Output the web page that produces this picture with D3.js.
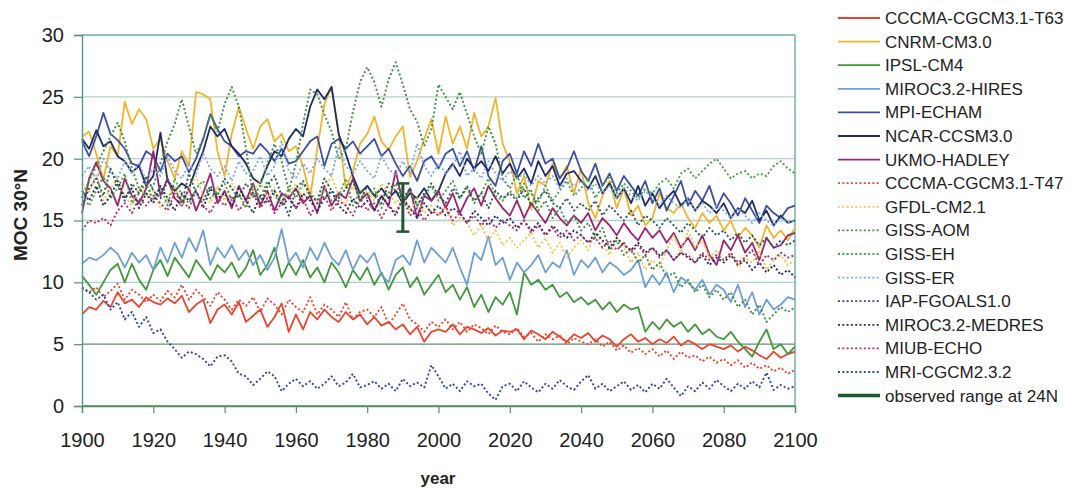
<!DOCTYPE html>
<html><head><meta charset="utf-8">
<script src="https://cdn.jsdelivr.net/npm/d3@7/dist/d3.min.js"></script>
<style>
body{margin:0;background:#fff;}
svg{display:block;font-family:"Liberation Sans",Arial,sans-serif;}
</style>
</head><body>
<svg id="chart" width="1069" height="488"></svg>
<script>
// ---------- DATA (every 2 years, 1900..2100) ----------
const years = d3.range(1900, 2101, 2);
const xTickYears = [1900,1920,1940,1960,1980,2000,2020,2040,2060,2080,2100];
const yTickValues = [0,5,10,15,20,25,30];

const cccmaT63 = [
 7.4,8.0,7.8,8.5,8.0,9.2,8.3,8.6,8.0,8.8,
 8.4,8.2,8.7,8.3,8.9,7.6,8.2,8.6,6.7,7.8,
 8.2,7.4,8.4,6.8,7.3,7.8,6.4,7.2,8.3,6.0,
 7.4,6.2,7.6,7.0,7.8,7.2,6.8,7.6,7.0,7.4,
 6.6,7.2,6.5,6.8,6.2,6.6,5.8,6.4,5.2,6.0,
 6.2,6.0,6.6,5.8,6.4,6.2,5.9,6.3,5.7,6.1,
 6.0,6.2,5.4,6.1,5.8,5.4,6.0,5.6,5.2,5.8,
 5.5,5.9,5.2,5.7,5.4,4.8,5.4,5.8,5.2,5.5,
 5.0,5.4,5.1,5.6,4.9,5.3,5.0,4.6,5.0,4.8,
 4.6,4.9,4.4,4.8,4.5,4.1,3.8,4.4,3.9,4.2,
 4.4];
const cnrm = [
 21.8,22.2,20.4,18.3,21.0,20.2,24.6,22.8,24.0,23.2,
 20.8,21.6,19.8,18.4,20.6,19.4,25.4,25.2,24.8,20.6,
 18.6,22.0,24.2,22.4,20.8,22.6,23.2,21.4,22.0,20.6,
 21.0,19.4,16.9,20.8,24.4,25.8,22.0,17.6,19.0,21.2,
 22.0,23.4,21.4,20.7,21.8,22.6,18.5,19.8,21.6,23.2,
 20.4,23.4,21.2,22.6,20.8,23.7,21.8,22.6,24.9,21.2,
 19.8,17.2,18.6,15.9,18.2,17.8,19.6,18.4,19.4,17.2,
 19.2,16.4,15.2,17.0,18.2,16.0,17.6,15.4,16.2,14.6,
 15.2,17.2,16.0,15.6,16.4,15.2,14.4,15.6,14.8,15.4,
 14.2,15.0,13.6,14.4,13.8,12.8,14.6,13.6,14.2,13.4,
 14.4];
const ipsl = [
 10.5,9.8,9.0,10.0,11.0,11.5,10.0,11.5,10.2,9.4,
 11.0,11.8,10.5,12.0,11.2,10.4,11.8,11.0,10.2,11.4,
 10.8,11.6,10.4,11.2,12.6,10.6,11.4,12.8,10.4,11.6,
 10.6,11.8,10.4,11.2,10.0,11.6,10.8,9.6,11.0,10.2,
 11.2,9.8,10.8,9.4,10.6,11.2,9.6,10.4,9.0,9.8,
 10.6,9.2,9.8,8.6,9.6,8.0,9.0,7.6,8.8,8.2,
 9.2,7.4,10.8,9.8,10.2,9.4,9.8,8.8,9.2,8.4,
 8.8,8.2,8.6,7.8,8.4,7.6,8.2,7.8,8.0,6.0,
 6.8,6.2,7.0,6.4,6.8,6.0,6.6,5.8,6.2,5.6,
 5.4,6.0,5.2,4.6,4.0,5.2,6.2,4.6,5.0,4.2,
 4.8];
const mirocHires = [
 11.5,12.0,11.8,12.2,12.8,12.3,11.2,12.4,11.6,12.2,
 11.0,12.8,11.6,13.2,12.0,13.6,12.5,14.2,11.4,12.8,
 12.0,13.0,11.8,12.6,11.4,12.2,11.0,12.0,14.3,11.6,
 12.4,11.2,12.8,11.8,13.2,12.0,11.4,12.6,11.0,12.2,
 11.6,12.4,10.6,10.0,11.8,12.2,11.4,13.4,11.6,12.8,
 12.2,11.6,12.8,11.2,9.8,12.4,11.8,13.7,11.4,12.0,
 10.2,11.6,10.8,11.4,12.2,10.8,11.6,11.2,12.6,10.6,
 11.8,11.2,12.0,10.8,11.6,11.2,10.6,11.0,11.8,9.6,
 10.6,9.8,10.8,9.2,10.4,10.0,9.4,10.2,9.0,9.8,
 9.4,8.4,9.8,8.0,9.2,7.4,8.6,7.8,8.2,8.8,
 8.6];
const mpi = [
 21.4,20.2,21.8,23.7,22.0,21.5,20.8,19.6,19.4,20.6,
 20.2,19.0,20.4,19.8,20.2,18.9,20.0,21.6,23.6,22.4,
 21.4,21.0,20.2,20.6,20.4,21.2,20.6,19.8,20.8,19.6,
 19.8,20.6,21.4,21.8,19.4,21.2,21.6,20.8,21.4,20.4,
 21.0,21.6,20.2,20.8,19.6,18.6,19.4,18.2,19.8,20.2,
 19.2,20.4,20.8,19.4,20.6,19.0,21.0,18.6,17.8,19.8,
 20.4,18.8,20.6,19.4,21.2,19.6,20.0,18.4,19.2,20.6,
 19.0,18.2,19.6,17.8,18.8,17.4,18.6,17.8,17.0,18.2,
 16.4,17.6,15.8,17.0,18.2,16.2,17.4,16.6,17.8,16.0,
 17.2,16.4,15.4,16.8,15.8,14.8,16.2,15.6,15.2,16.0,
 16.2];
const ncar = [
 21.6,20.8,22.3,21.0,21.4,20.2,19.8,18.9,19.4,17.8,
 18.6,22.1,18.2,17.4,18.0,17.6,19.2,20.6,22.6,21.8,
 22.4,21.0,20.4,19.6,18.4,18.0,19.4,20.6,20.2,21.6,
 22.4,21.8,24.2,25.6,24.8,25.8,22.0,20.4,18.6,17.2,
 17.8,17.0,17.6,16.8,17.4,16.4,17.2,16.8,17.6,16.6,
 17.4,18.8,19.6,18.6,20.0,19.2,19.8,19.0,20.2,18.8,
 19.6,18.4,19.2,18.0,19.8,18.6,19.4,17.8,18.8,19.0,
 18.2,17.6,18.6,17.2,18.0,16.8,17.6,16.4,17.8,16.2,
 17.2,16.0,16.8,17.4,16.2,16.8,15.8,16.6,16.2,15.6,
 16.4,15.2,16.0,15.6,16.6,15.0,15.8,14.6,15.4,14.8,
 15.0];
const ukmo = [
 15.6,18.4,19.7,18.2,17.6,16.2,18.4,17.0,16.4,17.6,
 20.6,17.0,18.4,16.8,16.2,17.6,15.8,17.2,18.8,16.4,
 17.4,16.0,17.8,16.6,18.0,16.2,17.4,15.8,17.2,16.8,
 17.6,16.4,17.0,15.6,17.8,16.2,17.2,16.8,18.4,16.6,
 17.2,15.8,17.0,16.2,19.0,16.4,17.6,15.2,17.0,16.6,
 17.4,16.0,17.2,15.6,16.8,17.6,16.2,17.8,16.8,16.0,
 15.4,16.6,15.2,16.4,15.6,14.8,16.0,15.2,14.6,15.4,
 14.8,15.6,14.2,15.2,14.6,13.8,14.8,14.0,13.4,14.4,
 13.6,14.2,13.2,14.0,12.8,13.6,12.6,13.8,12.2,11.4,
 13.4,12.6,13.8,12.4,13.2,11.8,13.6,12.8,13.0,13.8,
 14.0];
const cccmaT47 = [
 9.5,9.2,9.6,8.8,9.3,9.9,8.6,9.4,9.0,8.4,
 9.0,8.5,9.3,8.8,9.8,8.6,9.4,8.8,8.1,9.2,
 8.6,7.8,8.6,8.1,8.8,7.6,8.7,8.2,7.4,8.6,
 8.0,7.6,8.8,7.4,8.2,7.8,7.2,8.4,7.0,7.6,
 7.8,7.2,8.0,6.6,7.4,8.3,7.0,6.6,6.0,6.8,
 6.4,7.0,6.2,6.8,6.0,6.6,6.3,5.8,6.5,6.0,
 5.8,6.3,5.6,5.9,5.2,5.8,5.4,5.7,5.0,5.5,
 5.2,5.0,5.4,4.8,5.2,4.5,4.9,4.3,4.7,4.2,
 4.6,4.0,4.5,3.8,4.4,3.9,4.1,3.6,4.0,3.5,
 3.8,3.3,3.7,3.1,3.5,3.0,3.3,2.8,3.1,2.6,
 2.9];
const gfdl = [
 18.0,17.2,18.8,16.6,17.6,18.4,17.0,16.2,17.8,16.8,
 17.4,16.0,16.8,17.8,16.2,17.6,18.6,17.0,16.4,17.8,
 16.6,18.0,17.2,16.0,17.4,18.2,16.8,17.6,16.4,17.2,
 18.0,16.8,17.6,16.4,17.4,18.6,17.0,16.2,17.8,16.8,
 17.4,16.6,18.0,17.2,16.4,17.0,15.8,16.8,15.6,16.2,
 15.4,16.0,14.6,15.2,14.8,13.8,14.6,13.4,14.2,13.0,
 13.6,12.8,13.4,14.0,12.8,13.6,12.4,13.2,12.0,12.8,
 13.4,12.6,14.0,13.2,12.2,13.6,12.8,11.6,12.4,11.0,
 11.8,11.2,12.6,13.8,12.4,14.2,12.8,13.4,12.0,12.6,
 11.8,12.4,11.2,12.0,11.6,12.6,11.0,11.8,12.2,11.4,
 11.8];
const gissAom = [
 16.8,18.2,19.4,20.6,21.8,22.9,21.4,19.2,17.6,17.0,
 17.8,19.6,21.4,22.8,24.8,22.6,20.4,21.6,23.6,22.2,
 24.4,25.8,24.2,20.8,16.9,17.8,19.6,21.2,19.8,17.4,
 19.6,22.8,25.6,25.2,23.6,22.2,20.0,20.8,23.8,26.2,
 27.4,26.2,24.2,26.4,27.8,26.0,24.0,23.0,21.0,22.4,
 26.0,25.0,24.0,25.4,23.6,21.8,20.4,22.6,21.2,18.4,
 17.6,18.8,16.8,17.4,15.8,16.6,15.2,16.0,14.8,15.4,
 14.2,14.8,13.6,14.4,12.6,13.4,12.2,12.8,11.6,12.2,
 11.0,11.6,10.4,10.8,9.6,10.2,9.2,9.8,8.8,9.4,
 8.6,9.2,8.0,8.6,7.4,8.2,6.8,7.4,8.0,7.6,
 8.0];
const gissEh = [
 17.0,16.2,17.4,18.6,16.8,17.6,18.8,16.4,17.2,18.0,
 16.6,17.8,16.2,18.4,17.0,16.4,17.6,18.2,16.8,17.4,
 18.0,16.6,17.2,16.0,17.8,16.8,18.2,17.0,16.4,17.6,
 16.8,18.0,17.2,16.4,17.6,16.6,17.0,18.4,16.2,17.4,
 16.8,17.6,16.0,17.2,18.0,16.6,17.4,16.2,17.0,17.8,
 16.6,17.4,18.2,16.8,17.6,16.4,17.2,18.4,17.0,16.6,
 17.4,16.8,18.0,17.2,16.4,17.8,16.6,17.4,18.2,17.0,
 17.6,18.4,16.8,17.8,18.6,17.2,18.0,17.4,16.8,17.6,
 17.2,18.0,18.4,17.6,18.8,19.2,18.4,19.0,19.6,20.0,
 19.2,18.4,18.8,19.0,18.4,18.8,18.6,19.4,19.8,19.2,
 18.8];
const gissEr = [
 18.6,19.4,18.2,20.0,19.0,18.4,19.8,18.8,19.6,18.2,
 19.2,18.6,20.2,19.0,18.4,19.6,18.8,20.4,19.2,18.6,
 19.4,18.2,19.8,18.8,19.0,20.2,18.6,19.4,21.4,19.0,
 18.4,19.6,18.8,20.0,19.2,18.6,21.0,19.4,18.8,19.8,
 19.0,18.4,20.2,19.2,18.6,19.8,18.8,21.2,19.4,18.6,
 19.6,18.8,19.4,20.6,18.6,19.2,18.4,19.8,18.8,18.2,
 19.0,18.4,18.8,17.8,18.6,18.0,18.6,17.6,18.4,17.8,
 18.2,17.4,18.0,17.2,17.8,16.8,17.6,17.0,16.6,17.4,
 16.8,16.2,17.0,16.4,16.0,16.8,15.8,16.4,15.6,16.2,
 15.8,15.2,16.0,15.4,14.8,15.6,15.0,14.6,15.2,14.8,
 15.0];
const iapFgoals = [
 9.6,9.2,8.6,9.0,7.8,8.4,7.0,7.6,6.4,7.2,
 5.9,6.2,5.2,4.6,3.9,4.4,4.2,3.8,3.2,4.0,
 4.1,3.6,2.6,2.4,1.7,2.2,2.8,2.4,1.2,1.8,
 2.2,1.6,2.0,1.4,1.8,2.4,1.6,1.9,2.6,1.5,
 1.7,2.0,1.4,1.8,1.2,2.2,1.6,1.9,1.5,3.3,
 2.4,1.4,1.8,1.2,2.0,1.6,1.8,1.0,0.5,1.6,
 1.8,1.2,2.0,1.5,1.1,1.8,1.4,2.1,1.6,1.3,
 2.0,2.5,1.4,1.8,1.2,1.6,2.0,1.3,1.7,1.1,
 1.8,1.4,2.2,1.5,0.8,1.6,1.2,1.9,1.4,2.1,
 1.6,1.2,1.8,1.4,2.0,1.5,2.7,1.3,1.7,1.4,
 1.6];
const mirocMedres = [
 17.4,16.6,17.8,16.2,17.0,18.2,16.8,17.6,16.0,17.2,
 16.4,17.8,16.8,15.8,17.2,16.6,17.4,16.0,17.6,16.8,
 17.2,16.2,17.6,16.6,15.6,17.0,16.4,17.4,16.2,16.8,
 16.0,17.2,16.6,15.8,16.8,17.4,16.2,15.6,16.8,16.0,
 16.6,15.8,17.0,16.2,15.4,16.8,16.0,15.2,16.4,15.6,
 16.2,15.4,16.0,15.6,14.8,15.8,15.2,14.6,15.4,14.8,
 15.2,14.4,15.0,14.2,14.8,13.8,14.6,14.0,13.6,14.2,
 13.8,13.2,14.0,13.4,12.8,13.6,13.0,12.6,13.2,12.4,
 12.8,12.2,12.6,11.8,12.4,12.0,11.6,12.2,11.4,12.0,
 11.6,12.2,11.4,11.8,11.0,11.6,10.8,11.4,10.6,11.0,
 10.4];
const miubEcho = [
 14.2,15.0,14.8,15.2,14.6,15.8,16.4,15.6,16.8,16.2,
 17.0,16.4,15.8,17.2,16.6,16.0,17.4,16.2,15.6,16.8,
 16.2,17.0,15.8,16.6,17.2,16.0,16.8,15.6,16.4,17.0,
 16.0,16.8,15.4,16.4,17.0,15.8,16.6,16.2,15.4,16.8,
 15.8,16.4,15.2,16.2,15.6,16.8,15.4,16.0,15.0,15.8,
 15.4,16.2,15.0,15.6,14.8,15.4,14.6,15.2,14.4,15.0,
 14.6,14.2,15.0,14.0,14.6,13.8,14.4,13.6,14.2,13.4,
 13.8,13.2,13.6,12.8,13.4,12.6,13.2,12.4,13.0,12.2,
 12.8,12.0,12.6,11.8,12.4,12.2,11.6,12.4,11.8,12.2,
 11.8,12.4,11.6,12.0,12.6,11.4,12.2,11.8,12.4,12.0,
 12.2];
const mriCgcm = [
 16.2,17.6,18.4,17.0,19.2,17.8,16.6,18.0,17.2,18.6,
 17.4,16.8,18.2,17.6,16.4,18.8,17.2,16.6,17.8,17.0,
 18.4,17.6,16.8,18.0,17.2,16.4,17.8,18.6,17.0,15.4,
 17.6,18.2,17.0,16.6,18.4,17.4,16.8,17.6,18.2,16.6,
 17.8,17.0,16.4,18.0,17.4,16.8,17.6,16.2,17.2,18.0,
 17.0,16.4,17.6,16.8,17.8,16.6,17.2,16.0,17.4,16.8,
 17.2,16.6,17.6,16.2,16.8,17.4,16.4,16.0,16.8,15.8,
 16.4,15.8,16.6,15.4,16.2,15.6,15.0,15.8,14.6,15.4,
 15.0,14.4,15.2,14.6,14.0,14.8,14.2,13.6,14.4,13.8,
 14.2,13.4,14.0,13.2,13.8,13.0,13.6,12.8,13.4,13.0,
 13.4];

const observedYear = 1990;
const observedLow = 14.1;
const observedHigh = 18.0;

// legend / series definitions (names, data, colour, dotted?)
const series = [
 {name:"CCCMA-CGCM3.1-T63", data:cccmaT63,   color:"#e8452e", dot:false},
 {name:"CNRM-CM3.0",        data:cnrm,       color:"#f1b52c", dot:false},
 {name:"IPSL-CM4",          data:ipsl,       color:"#42963c", dot:false},
 {name:"MIROC3.2-HIRES",    data:mirocHires, color:"#6d9ed6", dot:false},
 {name:"MPI-ECHAM",         data:mpi,        color:"#3e4f9e", dot:false},
 {name:"NCAR-CCSM3.0",      data:ncar,       color:"#1e2b62", dot:false},
 {name:"UKMO-HADLEY",       data:ukmo,       color:"#9c2470", dot:false},
 {name:"CCCMA-CGCM3.1-T47", data:cccmaT47,   color:"#e8452e", dot:true},
 {name:"GFDL-CM2.1",        data:gfdl,       color:"#f3c64e", dot:true},
 {name:"GISS-AOM",          data:gissAom,    color:"#3f8f44", dot:true},
 {name:"GISS-EH",           data:gissEh,     color:"#4aa14c", dot:true},
 {name:"GISS-ER",           data:gissEr,     color:"#84a8e0", dot:true},
 {name:"IAP-FGOALS1.0",     data:iapFgoals,  color:"#3244a6", dot:true},
 {name:"MIROC3.2-MEDRES",   data:mirocMedres,color:"#262d66", dot:true},
 {name:"MIUB-ECHO",         data:miubEcho,   color:"#b43068", dot:true},
 {name:"MRI-CGCM2.3.2",     data:mriCgcm,    color:"#2b5a5c", dot:true}
];

// ---------- DRAW ----------
const svg = d3.select("#chart");
const x = d3.scaleLinear().domain([1900,2100]).range([82,795]);
const y = d3.scaleLinear().domain([0,30]).range([406,35]);

// grid lines
const gridColors = {0:"#4f8f62",5:"#5d8f70",10:"#a9d3cc",15:"#a9d3cc",20:"#b6cfdc",25:"#b9d2bf",30:"#6aaca4"};
svg.append("g").selectAll("line").data(yTickValues).join("line")
  .attr("x1", x(1900)).attr("x2", x(2100))
  .attr("y1", d=>y(d)).attr("y2", d=>y(d))
  .attr("stroke", d=>gridColors[d]).attr("stroke-width", 1.4);
// right border
svg.append("line").attr("x1",x(2100)).attr("x2",x(2100)).attr("y1",y(30)).attr("y2",y(0))
  .attr("stroke","#6aaca4").attr("stroke-width",1.4);

// series
const line = d3.line().x((d,i)=>x(years[i])).y(d=>y(d));
svg.append("g").selectAll("path").data(series).join("path")
  .attr("d", s=>line(s.data))
  .attr("fill","none")
  .attr("stroke", s=>s.color)
  .attr("stroke-width", s=>s.dot?1.9:1.8)
  .attr("stroke-dasharray", s=>s.dot?"2,2.3":null)
  .attr("stroke-linejoin","round");

// observed range bar
const obs = svg.append("g").attr("stroke","#1d5a30").attr("stroke-width",3);
obs.append("line").attr("x1",x(observedYear)).attr("x2",x(observedYear))
  .attr("y1",y(observedLow)).attr("y2",y(observedHigh));
obs.selectAll("line.cap").data([observedLow,observedHigh]).join("line").attr("class","cap")
  .attr("x1",x(observedYear)-6.5).attr("x2",x(observedYear)+6.5)
  .attr("y1",d=>y(d)).attr("y2",d=>y(d)).attr("stroke-width",2.5);

// axes
const yAxis = d3.axisLeft(y).tickValues(yTickValues).tickSize(8).tickPadding(10).tickFormat(d3.format("d"));
const gy = svg.append("g").attr("transform",`translate(${x(1900)},0)`).call(yAxis);
gy.select(".domain").attr("stroke","#4f9a86").attr("stroke-width",1.4);
gy.selectAll(".tick line").attr("stroke","#5a8a7a").attr("stroke-width",1.2);
gy.selectAll("text").attr("font-size",20).attr("fill","#222").attr("font-family","Liberation Sans, Arial, sans-serif");

const xAxis = d3.axisBottom(x).tickValues(xTickYears).tickSize(7).tickPadding(20).tickFormat(d3.format("d"));
const gx = svg.append("g").attr("transform",`translate(0,${y(0)})`).call(xAxis);
gx.select(".domain").attr("stroke","#4f8f62").attr("stroke-width",1.4);
gx.selectAll(".tick line").attr("stroke","#5a8a7a").attr("stroke-width",1.2);
gx.selectAll("text").attr("font-size",20).attr("fill","#222").attr("font-family","Liberation Sans, Arial, sans-serif");

// axis titles
svg.append("text").attr("x",438).attr("y",484).attr("text-anchor","middle")
  .attr("font-weight","bold").attr("font-size",17).attr("fill","#222").text("year");
svg.append("text").attr("transform","translate(27,215) rotate(-90)").attr("text-anchor","middle")
  .attr("font-weight","bold").attr("font-size",19).attr("fill","#222").text("MOC 30°N");

// legend
const legendItems = series.map(s=>({name:s.name,color:s.color,dot:s.dot,w:1.8}))
  .concat([{name:"observed range at 24N",color:"#1d5a30",dot:false,w:3.5}]);
const lg = svg.append("g").selectAll("g").data(legendItems).join("g")
  .attr("transform",(d,i)=>`translate(0,${18+23.6*i})`);
lg.append("line").attr("x1",838).attr("x2",880).attr("y1",0).attr("y2",0)
  .attr("stroke",d=>d.color).attr("stroke-width",d=>d.w)
  .attr("stroke-dasharray",d=>d.dot?"2,2.3":null);
lg.append("text").attr("x",885).attr("y",0).attr("dy","0.35em")
  .attr("font-size",17).attr("fill","#222").text(d=>d.name);
</script>
</body></html>
